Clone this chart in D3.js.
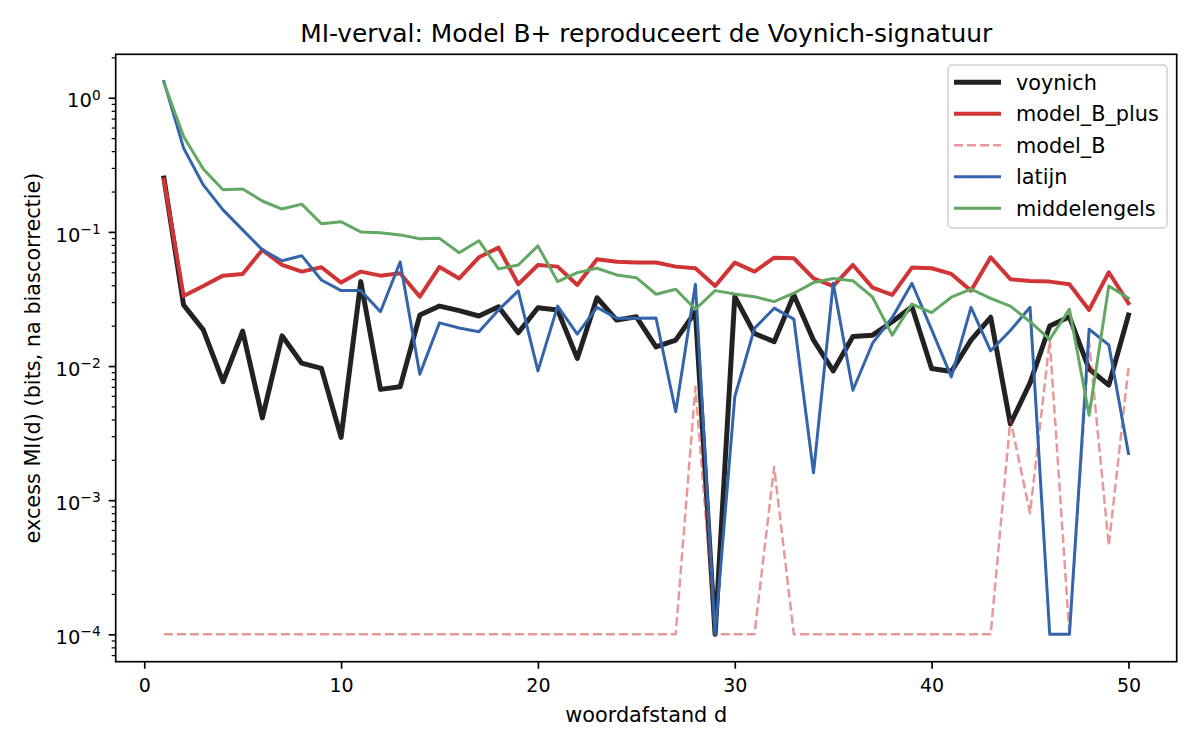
<!DOCTYPE html>
<html>
<head>
<meta charset="utf-8">
<script src="https://cdn.jsdelivr.net/npm/d3@7"></script>
<style>
  body { margin: 0; background: #fff; }
  svg { font-family: "DejaVu Sans", sans-serif; }
</style>
</head>
<body>
<div id="chart"></div>
<script>
// MI decay chart: excess mutual information per word distance, log y-axis

const distances = d3.range(1, 51);

const voynich = [
  0.252, 0.0285, 0.0186, 0.00764, 0.0182, 0.00411, 0.0168, 0.0105, 0.0096, 0.00294,
  0.0426, 0.0067, 0.0070, 0.024, 0.028, 0.0259, 0.0236, 0.0277, 0.0177, 0.0272,
  0.0262, 0.0114, 0.0323, 0.022, 0.0233, 0.0139, 0.0156, 0.0254, 0.0001, 0.0329,
  0.0175, 0.0152, 0.0339, 0.0156, 0.0092, 0.0166, 0.017, 0.0214, 0.0277, 0.0096,
  0.0091, 0.0156, 0.0231, 0.0037, 0.0075, 0.0199, 0.0233, 0.0095, 0.0072, 0.024
];

const modelBPlus = [
  0.245, 0.0333, 0.0395, 0.0472, 0.0486, 0.0734, 0.0567, 0.0506, 0.0545, 0.0419,
  0.0506, 0.0472, 0.0492, 0.0329, 0.0548, 0.045, 0.0647, 0.0763, 0.0407, 0.0567,
  0.0551, 0.0402, 0.0625, 0.060, 0.0592, 0.0592, 0.0551, 0.0536, 0.0395, 0.059,
  0.0506, 0.0643, 0.0636, 0.045, 0.0395, 0.0567, 0.0384, 0.0339, 0.0542, 0.0536,
  0.0486, 0.0365, 0.0647, 0.0444, 0.043, 0.0426, 0.0407, 0.0262, 0.050, 0.0294
];

const modelB = [
  0.0001, 0.0001, 0.0001, 0.0001, 0.0001, 0.0001, 0.0001, 0.0001, 0.0001, 0.0001,
  0.0001, 0.0001, 0.0001, 0.0001, 0.0001, 0.0001, 0.0001, 0.0001, 0.0001, 0.0001,
  0.0001, 0.0001, 0.0001, 0.0001, 0.0001, 0.0001, 0.0001, 0.0070, 0.0001, 0.0001,
  0.0001, 0.00177, 0.0001, 0.0001, 0.0001, 0.0001, 0.0001, 0.0001, 0.0001, 0.0001,
  0.0001, 0.0001, 0.0001, 0.0040, 0.0008, 0.0156, 0.0001, 0.015, 0.00046, 0.0097
];

const latijn = [
  1.32, 0.421, 0.224, 0.146, 0.1035, 0.0734, 0.061, 0.0665, 0.0438, 0.0365,
  0.0365, 0.0254, 0.0597, 0.0087, 0.021, 0.0192, 0.018, 0.0262, 0.0363, 0.0092,
  0.028, 0.0173, 0.0274, 0.0227, 0.0227, 0.0228, 0.00456, 0.0407, 0.0001, 0.0059,
  0.0191, 0.027, 0.0224, 0.0016, 0.0414, 0.0066, 0.0148, 0.023, 0.0414, 0.0187,
  0.0083, 0.0274, 0.013, 0.0184, 0.0274, 0.0001, 0.0001, 0.0188, 0.0144, 0.00223
];

const middelengels = [
  1.29, 0.514, 0.294, 0.206, 0.209, 0.170, 0.148, 0.161, 0.115, 0.119,
  0.100, 0.0985, 0.095, 0.089, 0.0895, 0.070, 0.086, 0.053, 0.0567, 0.0787,
  0.0426, 0.0497, 0.0536, 0.0478, 0.0456, 0.0343, 0.0374, 0.0265, 0.0365, 0.0345,
  0.0329, 0.0302, 0.0349, 0.0419, 0.045, 0.0433, 0.0326, 0.017, 0.029, 0.025,
  0.0326, 0.0374, 0.032, 0.028, 0.0214, 0.0158, 0.0265, 0.0043, 0.0395, 0.032
];

const seriesNames = ["voynich", "model_B_plus", "model_B", "latijn", "middelengels"];
const xTicks = [0, 10, 20, 30, 40, 50];
const yExponents = [0, -1, -2, -3, -4];

// Styles per series (draw order = legend order)
const styles = {
  voynich:      { color: "#222222", width: 5,   dash: null,  opacity: 1 },
  model_B_plus: { color: "#d03434", width: 4,   dash: null,  opacity: 1 },
  model_B:      { color: "#d03434", width: 2.5, dash: "9,4", opacity: 0.5 },
  latijn:       { color: "#3465aa", width: 3,   dash: null,  opacity: 1 },
  middelengels: { color: "#62a862", width: 3,   dash: null,  opacity: 1 }
};

const seriesValues = [voynich, modelBPlus, modelB, latijn, middelengels];

const W = 1200, H = 750;
const margin = { top: 54.3, right: 23.3, bottom: 88.3, left: 115.7 },
      width = W - margin.left - margin.right,
      height = H - margin.top - margin.bottom;

const svg = d3.select("#chart")
  .append("svg")
  .attr("width", W)
  .attr("height", H);

const g = svg.append("g")
  .attr("transform", `translate(${margin.left},${margin.top})`);

// Scales
const x = d3.scaleLinear()
  .domain([-1.45, 52.45])
  .range([0, width]);

const y = d3.scaleLog()
  .domain([Math.pow(10, -4.204), Math.pow(10, 0.324)])
  .range([height, 0]);

// Clip lines to plot area
svg.append("defs").append("clipPath").attr("id", "plot-clip")
  .append("rect").attr("width", width).attr("height", height);

// Lines
const line = d3.line()
  .x(d => x(d[0]))
  .y(d => y(d[1]));

const lineLayer = g.append("g").attr("clip-path", "url(#plot-clip)");

seriesNames.forEach((name, i) => {
  const st = styles[name];
  const pts = distances.map((d, j) => [d, seriesValues[i][j]]);
  lineLayer.append("path")
    .datum(pts)
    .attr("fill", "none")
    .attr("stroke", st.color)
    .attr("stroke-opacity", st.opacity)
    .attr("stroke-width", st.width)
    .attr("stroke-dasharray", st.dash)
    .attr("stroke-linejoin", "round")
    .attr("stroke-linecap", st.dash ? "butt" : "square")
    .attr("d", line);
});

// X axis
const xAxis = g.append("g")
  .attr("transform", `translate(0,${height})`)
  .call(d3.axisBottom(x).tickValues(xTicks).tickSize(7).tickSizeOuter(0).tickPadding(10));
xAxis.select(".domain").remove();
xAxis.selectAll("line").attr("stroke", "#000").attr("stroke-width", 1.67);
xAxis.selectAll("text").attr("font-size", 19).attr("fill", "#000")
  .style("font-family", "DejaVu Sans");

// Y axis minor ticks
const minorTicks = [];
for (let e = -5; e <= 0; e++) {
  for (let m = 2; m <= 9; m++) {
    const v = m * Math.pow(10, e);
    if (v >= y.domain()[0] && v <= y.domain()[1]) minorTicks.push(v);
  }
}
const yMinor = g.append("g")
  .call(d3.axisLeft(y).tickValues(minorTicks).tickSize(4).tickSizeOuter(0).tickFormat(() => ""));
yMinor.select(".domain").remove();
yMinor.selectAll("line").attr("stroke", "#000").attr("stroke-width", 1.25);

// Y axis major ticks
const yMajor = g.append("g")
  .call(d3.axisLeft(y).tickValues(yExponents.map(e => Math.pow(10, e)))
    .tickSize(7).tickSizeOuter(0).tickFormat(() => ""));
yMajor.select(".domain").remove();
yMajor.selectAll("line").attr("stroke", "#000").attr("stroke-width", 1.67);

// Y tick labels as 10^e
yExponents.forEach(e => {
  const t = g.append("text")
    .attr("x", -15)
    .attr("y", y(Math.pow(10, e)) + 9.6)
    .attr("text-anchor", "end")
    .attr("font-size", 19.5)
    .attr("fill", "#000");
  t.append("tspan").text("10");
  t.append("tspan")
    .attr("dy", -7.5)
    .attr("font-size", 13.8)
    .text(e < 0 ? "\u2212" + Math.abs(e) : String(e));
});

// Spines
g.append("rect")
  .attr("width", width)
  .attr("height", height)
  .attr("fill", "none")
  .attr("stroke", "#000")
  .attr("stroke-width", 1.67);

// Title
svg.append("text")
  .attr("x", margin.left + width / 2)
  .attr("y", 42)
  .attr("text-anchor", "middle")
  .attr("font-size", 24.9)
  .text("MI-verval: Model B+ reproduceert de Voynich-signatuur");

// Axis labels
svg.append("text")
  .attr("x", margin.left + width / 2)
  .attr("y", 722)
  .attr("text-anchor", "middle")
  .attr("font-size", 20.8)
  .text("woordafstand d");

svg.append("text")
  .attr("transform", `translate(40,${margin.top + height / 2}) rotate(-90)`)
  .attr("text-anchor", "middle")
  .attr("font-size", 20.8)
  .text("excess MI(d) (bits, na biascorrectie)");

// Legend
const legend = svg.append("g").attr("transform", "translate(948,65)");

legend.append("rect")
  .attr("width", 219)
  .attr("height", 163)
  .attr("rx", 4)
  .attr("fill", "#fff")
  .attr("fill-opacity", 0.8)
  .attr("stroke", "#d0d0d0")
  .attr("stroke-width", 1.5);

seriesNames.forEach((name, i) => {
  const st = styles[name];
  const row = legend.append("g")
    .attr("transform", `translate(0, ${17.3 + i * 31.5})`);

  row.append("line")
    .attr("x1", 6)
    .attr("x2", 53)
    .attr("stroke", st.color)
    .attr("stroke-opacity", st.opacity)
    .attr("stroke-width", st.width)
    .attr("stroke-dasharray", st.dash);

  row.append("text")
    .attr("x", 68)
    .attr("y", 7.5)
    .attr("font-size", 20.8)
    .text(name);
});
</script>
</body>
</html>
